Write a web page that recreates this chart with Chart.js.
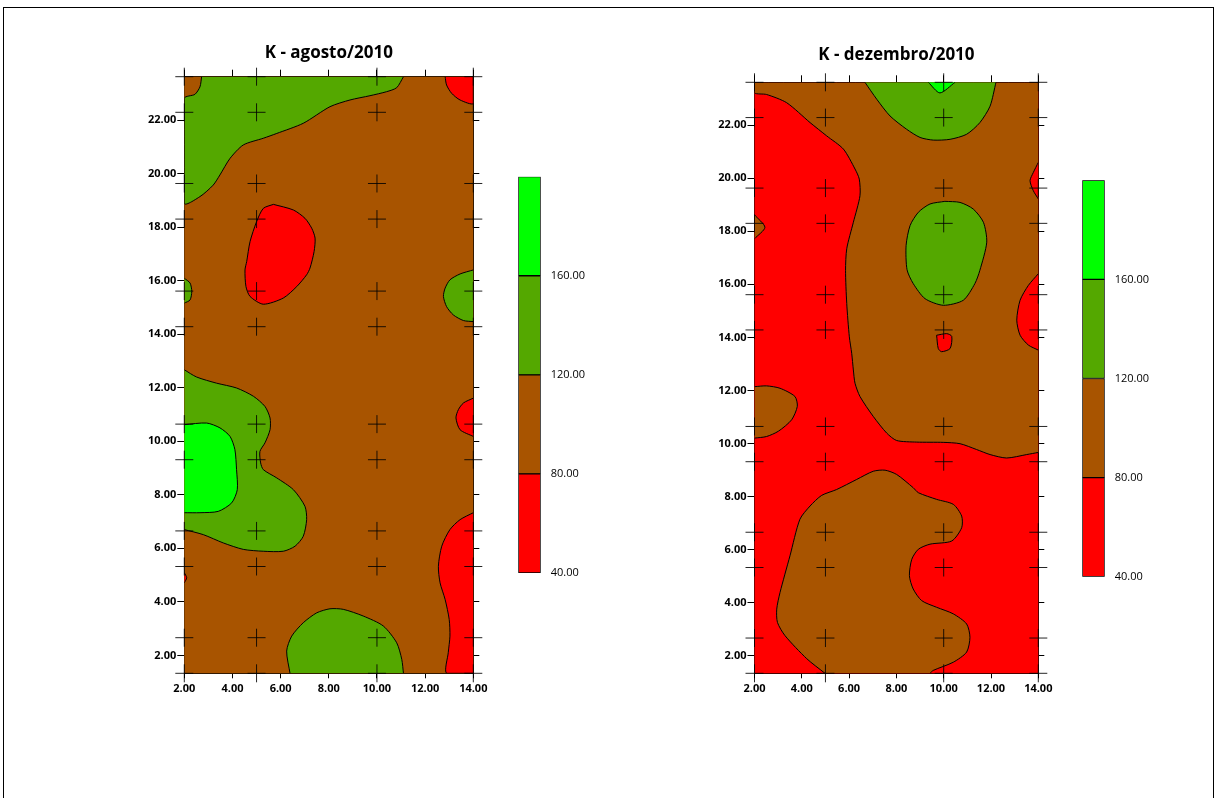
<!DOCTYPE html>
<html>
<head>
<meta charset="utf-8">
<script src="https://cdn.jsdelivr.net/npm/chart.js@4.4.1/dist/chart.umd.min.js"></script>
<style>
  html, body { margin: 0; padding: 0; background: #fff; }
  #page { position: relative; width: 1217px; height: 798px; overflow: hidden; }
  #frame { position: absolute; left: 3px; top: 7px; width: 1209px; height: 820px; border: 1px solid #000; border-bottom: none; }
  canvas { position: absolute; }
</style>
</head>
<body>
<div id="page">
  <div id="frame"></div>
  <canvas id="mapAug" width="370" height="690" style="left:124px;top:20px"></canvas>
  <canvas id="barAug" width="90" height="440" style="left:510px;top:160px"></canvas>
  <canvas id="mapDec" width="365" height="690" style="left:694px;top:20px"></canvas>
  <canvas id="barDec" width="90" height="440" style="left:1074px;top:164px"></canvas>
</div>
<script>
// axes
const xTicks = [2, 4, 6, 8, 10, 12, 14];
const yTicks = [2, 4, 6, 8, 10, 12, 14, 16, 18, 20, 22];
const xRange = [2, 14];
const yRange = [1.33, 23.62];

// sampling points (crosses)
const sampleX = [2, 5, 10, 14];
const sampleY = [1.33, 2.66, 5.32, 6.65, 9.31, 10.64, 14.28, 15.61, 18.3, 19.63, 22.29, 23.62];

// K classes
const levels = [40, 80, 120, 160, 200];
const levelTicks = [40, 80, 120, 160];
const levelColors = ['#ff0000', '#a85400', '#54a800', '#00ff00'];

// K - agosto/2010 contour regions (x, y)
const augGreenNW = [[11.1,23.62],[10.82,23.21],[10.4,23.06],[9.71,22.91],[8.88,22.75],[8.05,22.5],[6.94,21.88],[5.84,21.5],[5.28,21.32],[4.45,21.07],[3.9,20.57],[3.48,19.95],[3.2,19.57],[2.65,19.14],[2,18.89],[2,22.81],[2.44,22.96],[2.65,23.24],[2.72,23.62]];
const augRedNE = [[12.83,23.62],[12.89,23.31],[13.1,23.0],[13.45,22.75],[14,22.62],[14,23.62]];
const augRedMid = [[5.7,18.85],[6.53,18.64],[7.01,18.33],[7.29,17.96],[7.43,17.59],[7.39,17.09],[7.22,16.47],[7.08,16.22],[6.67,15.78],[6.11,15.35],[5.28,15.12],[4.73,15.41],[4.56,15.78],[4.52,16.4],[4.59,16.71],[4.73,17.46],[5.0,18.2],[5.28,18.7],[5.7,18.85]];
const augGreenW16 = [[2,16.09],[2.24,15.91],[2.31,15.6],[2.24,15.28],[2,15.16]];
const augGreenE15 = [[14,16.4],[13.45,16.25],[13.03,16.03],[12.83,15.72],[12.76,15.41],[12.89,15.03],[13.17,14.72],[13.59,14.51],[14,14.47]];
const augRedE11 = [[14,11.61],[13.59,11.43],[13.38,11.18],[13.28,10.87],[13.45,10.43],[14,10.18]];
const augGreenW10 = [[2,12.67],[2.51,12.4],[3.34,12.17],[4.17,11.99],[4.87,11.68],[5.35,11.3],[5.56,10.87],[5.56,10.43],[5.35,9.94],[5.14,9.62],[5.17,9.19],[5.28,8.94],[5.84,8.63],[6.53,8.19],[7.01,7.57],[7.08,7.07],[6.94,6.45],[6.6,6.08],[6.11,5.89],[5.28,5.89],[4.45,5.96],[3.62,6.2],[2.79,6.51],[2,6.7]];
const augLimeW9 = [[2,10.62],[2.93,10.68],[3.48,10.5],[3.9,10.18],[4.1,9.69],[4.17,8.94],[4.2,8.19],[3.97,7.7],[3.41,7.38],[2.65,7.33],[2,7.33]];
const augRedW5 = [[2,5.09],[2.1,4.9],[2,4.71]];
const augRedSE = [[14,7.33],[13.45,7.07],[13.03,6.7],[12.69,6.08],[12.55,5.33],[12.62,4.71],[12.83,4.09],[13.0,3.34],[13.03,2.72],[12.96,2.1],[12.89,1.33],[14,1.33]];
const augGreenS = [[6.39,1.33],[6.25,2.16],[6.46,2.72],[6.94,3.22],[7.5,3.59],[8.05,3.74],[8.6,3.72],[9.43,3.47],[10.26,3.1],[10.82,2.47],[11.03,1.85],[11.1,1.33]];

// K - dezembro/2010 contour regions (x, y)
const decBrownMain = [[14,9.66],[13.51,9.58],[12.66,9.45],[11.96,9.58],[11.39,9.77],[10.69,9.99],[9.98,10.04],[8.86,10.05],[8.01,10.11],[7.59,10.39],[7.02,11.02],[6.46,11.77],[6.25,12.27],[6.18,12.77],[6.11,13.4],[6.01,14.02],[5.9,15.28],[5.85,16.53],[5.9,17.34],[6.18,18.34],[6.46,19.34],[6.43,19.97],[6.25,20.35],[5.76,21.1],[5.05,21.6],[4.35,22.1],[3.36,22.85],[2.51,23.16],[2,23.22],[2,23.62],[14,23.62]];
const decBrownW18 = [[2,18.62],[2.44,18.15],[2,17.72]];
const decBrownW11 = [[2,12.14],[2.51,12.17],[3.08,12.08],[3.71,11.77],[3.81,11.4],[3.57,10.89],[3.01,10.46],[2.51,10.26],[2,10.2]];
const decBrownS = [[4.98,1.33],[4.21,1.88],[3.29,2.75],[2.97,3.25],[2.94,3.75],[3.08,4.38],[3.5,5.76],[3.92,7.14],[4.35,7.64],[4.84,8.04],[5.47,8.26],[6.32,8.64],[7.02,8.95],[7.52,8.99],[8.01,8.83],[8.71,8.33],[8.93,8.14],[9.7,7.89],[10.41,7.7],[10.76,7.26],[10.76,6.82],[10.34,6.32],[9.42,6.2],[8.93,6.01],[8.65,5.63],[8.55,5.01],[8.71,4.51],[9.07,4.07],[9.7,3.82],[10.41,3.57],[10.97,3.19],[11.11,2.69],[10.97,2.13],[10.41,1.75],[9.56,1.44],[9.42,1.33]];
const decGreenN = [[6.67,23.62],[7.17,22.98],[7.73,22.35],[8.43,21.85],[9.0,21.54],[9.56,21.44],[10.27,21.47],[10.97,21.66],[11.53,22.1],[11.96,22.72],[12.21,23.62]];
const decLimeN = [[9.35,23.62],[9.84,23.22],[10.48,23.62]];
const decGreenMid = [[10.05,19.13],[9.42,19.03],[8.93,18.72],[8.58,18.22],[8.41,17.47],[8.45,16.55],[8.71,16.03],[9.21,15.46],[9.98,15.21],[10.83,15.4],[11.32,16.03],[11.53,16.53],[11.82,17.59],[11.68,18.34],[11.25,18.84],[10.69,19.09],[10.05,19.13]];
const decRedMid14 = [[9.7,14.08],[10.13,14.14],[10.34,14.04],[10.27,13.58],[9.91,13.46],[9.77,13.58],[9.7,14.08]];
const decRedE20 = [[14,20.6],[13.79,20.22],[13.65,19.91],[13.79,19.53],[14,19.22]];
const decRedE15 = [[14,16.4],[13.58,15.96],[13.23,15.4],[13.09,14.65],[13.23,14.08],[13.58,13.71],[14,13.52]];

// [class index, region], bottom layer first
const augLayers = [
  [2, augGreenNW], [2, augGreenW16], [2, augGreenE15], [2, augGreenW10], [2, augGreenS],
  [3, augLimeW9],
  [0, augRedNE], [0, augRedMid], [0, augRedE11], [0, augRedW5], [0, augRedSE]
];
const decLayers = [
  [1, decBrownMain], [1, decBrownW18], [1, decBrownW11], [1, decBrownS],
  [2, decGreenN], [2, decGreenMid],
  [3, decLimeN],
  [0, decRedMid14], [0, decRedE20], [0, decRedE15]
];

Chart.defaults.font.family = "'Open Sans', sans-serif";
Chart.defaults.color = '#000';

const areaFill = {
  id: 'areaFill',
  beforeDatasetsDraw(chart, args, opts) {
    const { ctx, chartArea: a } = chart;
    ctx.save();
    ctx.fillStyle = opts.color;
    ctx.fillRect(a.left, a.top, a.right - a.left, a.bottom - a.top);
    ctx.restore();
  }
};

const fmt = v => Number(v).toFixed(2);

function makeMap(id, title, baseClass, layers, box) {
  const crosses = sampleY.flatMap(y => sampleX.map(x => ({ x, y })));
  const datasets = [{
    type: 'scatter',
    data: crosses,
    pointStyle: 'cross',
    pointRadius: 9,
    borderColor: 'rgba(0,0,0,0.85)',
    borderWidth: 1,
    clip: false
  }];
  layers.slice().reverse().forEach(([cls, pts]) => {
    datasets.push({
      type: 'line',
      data: pts,
      fill: 'shape',
      backgroundColor: levelColors[cls],
      borderColor: '#000',
      borderWidth: 1,
      pointRadius: 0,
      tension: 0.25
    });
  });

  const edge = (pos, tickLen, size, labels) => {
    const horiz = pos === 'top' || pos === 'bottom';
    return {
      type: 'linear',
      position: pos,
      min: horiz ? xRange[0] : yRange[0],
      max: horiz ? xRange[1] : yRange[1],
      z: 1,
      afterBuildTicks: s => { s.ticks = (horiz ? xTicks : yTicks).map(v => ({ value: v })); },
      afterFit: s => { if (horiz) s.height = size; else s.width = size; },
      ticks: {
        display: labels,
        callback: fmt,
        autoSkip: false,
        maxRotation: 0,
        font: { size: 11, weight: 'bold' },
        padding: horiz ? 4 : 1
      },
      grid: { drawOnChartArea: false, tickLength: tickLen, color: '#000' },
      border: { display: true, color: '#000', width: 1 }
    };
  };

  new Chart(document.getElementById(id), {
    type: 'scatter',
    data: { datasets },
    plugins: [areaFill],
    options: {
      responsive: false,
      animation: false,
      events: [],
      layout: { padding: 0 },
      plugins: {
        areaFill: { color: levelColors[baseClass] },
        filler: { drawTime: 'beforeDatasetDraw' },
        legend: { display: false },
        tooltip: { enabled: false },
        title: {
          display: true,
          text: title,
          fullSize: false,
          color: '#000',
          font: { size: 17, weight: 'bold' },
          padding: { top: box.titleTop, bottom: box.titleBottom }
        }
      },
      scales: {
        x: edge('bottom', 5, box.bottom, true),
        x2: edge('top', 7, box.top, false),
        y: edge('left', 7, box.left, true),
        y2: edge('right', 6, box.right, false)
      }
    }
  });
}

function makeBar(id, box) {
  new Chart(document.getElementById(id), {
    type: 'bar',
    data: {
      labels: ['K'],
      datasets: levelColors.map((c, i) => ({
        data: [[levels[i], levels[i + 1]]],
        backgroundColor: c,
        borderColor: '#000',
        borderWidth: 1,
        borderSkipped: false,
        grouped: false,
        barPercentage: 1,
        categoryPercentage: 1
      }))
    },
    options: {
      responsive: false,
      animation: false,
      events: [],
      layout: { padding: { left: box.left, top: box.top, bottom: box.bottom, right: 0 } },
      plugins: { legend: { display: false }, tooltip: { enabled: false } },
      scales: {
        x: { display: false },
        y: {
          position: 'right',
          min: levels[0],
          max: levels[levels.length - 1],
          afterBuildTicks: s => { s.ticks = levelTicks.map(v => ({ value: v })); },
          afterFit: s => { s.width = box.axis; },
          ticks: { callback: fmt, font: { size: 11 }, padding: 2 },
          grid: { display: false },
          border: { display: false }
        }
      }
    }
  });
}

makeMap('mapAug', 'K - agosto/2010', 1, augLayers,
  { titleTop: 22.8, titleBottom: 3.5, top: 10, bottom: 36.7, left: 60.3, right: 20.7 });
makeMap('mapDec', 'K - dezembro/2010', 0, decLayers,
  { titleTop: 24.8, titleBottom: 7.1, top: 10, bottom: 36.7, left: 60.5, right: 20.7 });
makeBar('barAug', { left: 8.3, top: 16.7, bottom: 27, axis: 59.3 });
makeBar('barDec', { left: 8.3, top: 16.3, bottom: 27.3, axis: 59.3 });
</script>
</body>
</html>
